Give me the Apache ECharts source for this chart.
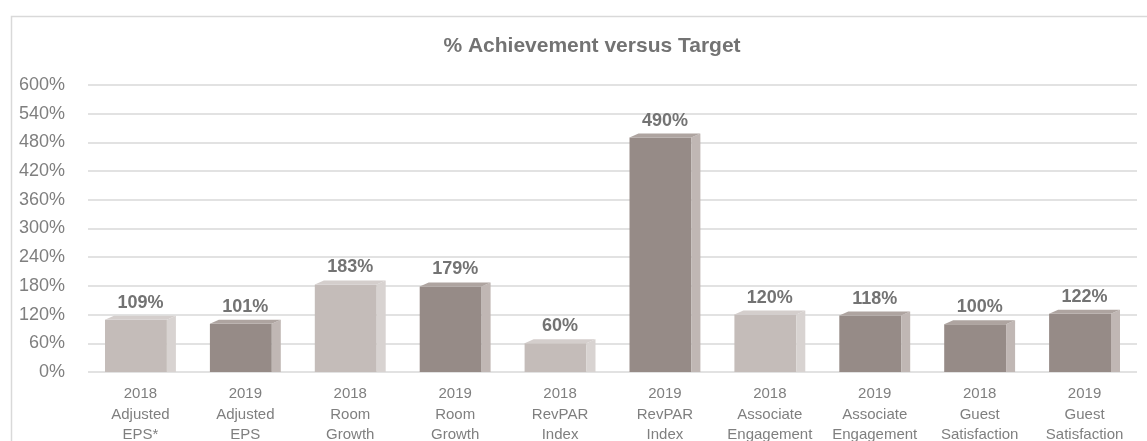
<!DOCTYPE html>
<html>
<head>
<meta charset="utf-8">
<script src="https://cdn.jsdelivr.net/npm/echarts@6/dist/echarts.min.js"></script>
<style>
  html, body { margin: 0; padding: 0; background: #fff; }
  #chart { width: 1147px; height: 441px; }
</style>
</head>
<body>
<div id="chart"></div>
<script>
// categories (line breaks as in the original)
const categories = [
  "2018\nAdjusted\nEPS*", "2019\nAdjusted\nEPS",
  "2018\nRoom\nGrowth", "2019\nRoom\nGrowth",
  "2018\nRevPAR\nIndex", "2019\nRevPAR\nIndex",
  "2018\nAssociate\nEngagement", "2019\nAssociate\nEngagement",
  "2018\nGuest\nSatisfaction", "2019\nGuest\nSatisfaction"
];
const achievement = [109, 101, 183, 179, 60, 490, 120, 118, 100, 122];
const yTicks = [0, 60, 120, 180, 240, 300, 360, 420, 480, 540, 600];

// shade per bar: 0 = light, 1 = dark
const barShade = [0, 1, 0, 1, 0, 1, 0, 1, 1, 1];
const faceColor = ["#c4bcb9", "#968b87"];
const sideColor = ["#d8d3d1", "#c0b7b4"];
const topColor = ["#d4cecc", "#aea4a0"];

const chart = echarts.init(document.getElementById("chart"));

function renderBar(params, api) {
  const idx = api.value(0);
  const top = api.coord([idx, api.value(1)]);
  const base = api.coord([idx, 0]);
  const band = api.size([1, 0])[0];
  const faceW = band * 0.59;
  const side = 9, depth = 4;
  const x0 = top[0] - (faceW + side) / 2;
  const x1 = x0 + faceW;
  const c = barShade[idx];
  return {
    type: "group",
    children: [
      { type: "rect", shape: { x: x0, y: top[1], width: faceW, height: base[1] - top[1] },
        style: { fill: faceColor[c] } },
      { type: "polygon", shape: { points: [[x1, top[1]], [x1 + side, top[1] - depth], [x1 + side, base[1]], [x1, base[1]]] },
        style: { fill: sideColor[c] } },
      { type: "polygon", shape: { points: [[x0, top[1]], [x0 + side, top[1] - depth], [x1 + side, top[1] - depth], [x1, top[1]]] },
        style: { fill: topColor[c] } }
    ]
  };
}

const option = {
  backgroundColor: "#fff",
  animation: false,
  textStyle: { fontFamily: "Liberation Sans, Arial, sans-serif" },
  title: {
    text: "% Achievement versus Target",
    left: 587, top: 31, textAlign: "center",
    textStyle: { fontSize: 21, fontWeight: "bold", color: "#737373" }
  },
  graphic: [{
    type: "rect", left: 9, top: 14, z: -1,
    shape: { width: 1160, height: 460 },
    style: { fill: "none", stroke: "#d9d9d9", lineWidth: 1.5 }
  }],
  grid: { left: 88, right: 10, top: 85, bottom: 69, outerBoundsMode: "none" },
  xAxis: {
    type: "category",
    data: categories,
    axisLine: { show: false },
    axisTick: { show: false },
    axisLabel: { color: "#7f7f7f", fontSize: 15, lineHeight: 20.5, margin: 12, interval: 0 }
  },
  yAxis: {
    type: "value",
    min: yTicks[0], max: yTicks[yTicks.length - 1], interval: 60,
    axisLine: { show: false },
    axisTick: { show: false },
    splitLine: { lineStyle: { color: "#d9d9d9", width: 1.5 } },
    axisLabel: { color: "#7f7f7f", fontSize: 18, margin: 23, formatter: "{value}%" }
  },
  series: [
    {
      type: "custom",
      renderItem: renderBar,
      data: achievement.map((v, i) => [i, v]),
      encode: { x: 0, y: 1 },
      z: 3
    },
    {
      // invisible bars carrying the value labels
      type: "bar",
      data: achievement,
      barWidth: "60%",
      itemStyle: { color: "rgba(0,0,0,0)" },
      label: {
        show: true, position: "top", distance: 8,
        formatter: "{c}%",
        color: "#737373", fontSize: 18, fontWeight: "bold"
      },
      z: 4
    }
  ]
};
chart.setOption(option);
</script>
</body>
</html>
